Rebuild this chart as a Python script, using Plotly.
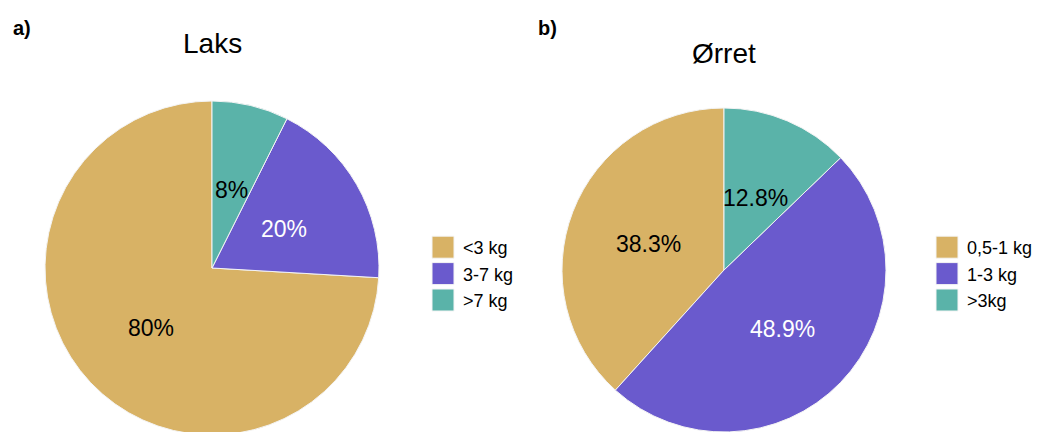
import math
import plotly.graph_objects as go

# ---- data ----
laks_labels = ["<3 kg", "3-7 kg", ">7 kg"]
laks_values = [80, 20, 8]
laks_text = ["80%", "20%", "8%"]

orret_labels = ["0,5-1 kg", "1-3 kg", ">3kg"]
orret_values = [38.3, 48.9, 12.8]
orret_text = ["38.3%", "48.9%", "12.8%"]

panel_titles = ["Laks", "Ørret"]
panel_tags = ["a)", "b)"]

# ---- style ----
W, H = 1040, 436
colors = ["#D8B265", "#6A5ACD", "#5AB3A9"]
text_colors = ["black", "white", "black"]
FONT = "Liberation Sans, Arial, sans-serif"

# pie geometry in pixels (center x, center y from top, radius)
geo = [(212, 268, 167), (724, 270, 162)]
LABEL_R = 0.5
LABEL_DY = 3

fig = go.Figure()
annotations = []

datasets = [
    (laks_labels, laks_values, laks_text),
    (orret_labels, orret_values, orret_text),
]

for i, (labels, values, texts) in enumerate(datasets):
    cx, cy, r = geo[i]
    dom_x = [(cx - r) / W, (cx + r) / W]
    dom_y = [(H - cy - r) / H, (H - cy + r) / H]
    dom_y = [max(0, dom_y[0]), min(1, dom_y[1])]
    total = sum(values)
    # first slice runs counterclockwise from 12 o'clock
    rot = 360.0 * (1 - values[0] / total)
    fig.add_trace(go.Pie(
        labels=labels, values=values, sort=False,
        direction="counterclockwise", rotation=rot,
        marker=dict(colors=colors, line=dict(color="#F4F4F4", width=1)),
        textinfo="none", hoverinfo="label+value",
        domain=dict(x=dom_x, y=dom_y),
        legend="legend" if i == 0 else "legend2",
    ))
    # slice labels placed at mid-angle of each slice
    cum = 0.0
    for j, v in enumerate(values):
        mid = (cum + v / 2) / total * 2 * math.pi  # ccw from top
        cum += v
        rr = r * LABEL_R
        px = cx - rr * math.sin(mid)
        py = cy - rr * math.cos(mid) + LABEL_DY
        annotations.append(dict(
            x=px / W, y=(H - py) / H, xref="paper", yref="paper",
            text=texts[j], showarrow=False, xanchor="center", yanchor="middle",
            font=dict(size=23, color=text_colors[j], family=FONT),
        ))

# titles and panel tags
title_pos = [(212, 44), (724, 53)]
tag_pos = [(11, 28), (536, 28)]
for i in range(2):
    tx, ty = title_pos[i]
    annotations.append(dict(
        x=tx / W, y=(H - ty) / H, xref="paper", yref="paper",
        text=panel_titles[i], showarrow=False, xanchor="center", yanchor="middle",
        font=dict(size=28, color="black", family=FONT),
    ))
    gx, gy = tag_pos[i]
    annotations.append(dict(
        x=gx / W, y=(H - gy) / H, xref="paper", yref="paper",
        text="<b>" + panel_tags[i] + "</b>", showarrow=False,
        xanchor="left", yanchor="middle",
        font=dict(size=20, color="black", family=FONT),
    ))

legend_style = dict(font=dict(size=18, color="black", family=FONT),
                    yanchor="middle", xanchor="left", bgcolor="rgba(0,0,0,0)",
                    tracegroupgap=0)

fig.update_layout(
    width=W, height=H,
    margin=dict(l=0, r=0, t=0, b=0),
    paper_bgcolor="white", plot_bgcolor="white",
    font=dict(family=FONT, color="black"),
    annotations=annotations,
    legend=dict(x=423 / W, y=(H - 274) / H, **legend_style),
    legend2=dict(x=927 / W, y=(H - 274) / H, **legend_style),
)

post = """
document.documentElement.style.overflow = 'hidden';
document.body.style.margin = '0';
document.body.style.overflow = 'hidden';
document.querySelectorAll('path.legendpie').forEach(function(p){
    p.setAttribute('d', 'M11,11H-11V-11H11Z');
});
"""

fig.write_html("out.html", post_script=post, config={"displayModeBar": False})
